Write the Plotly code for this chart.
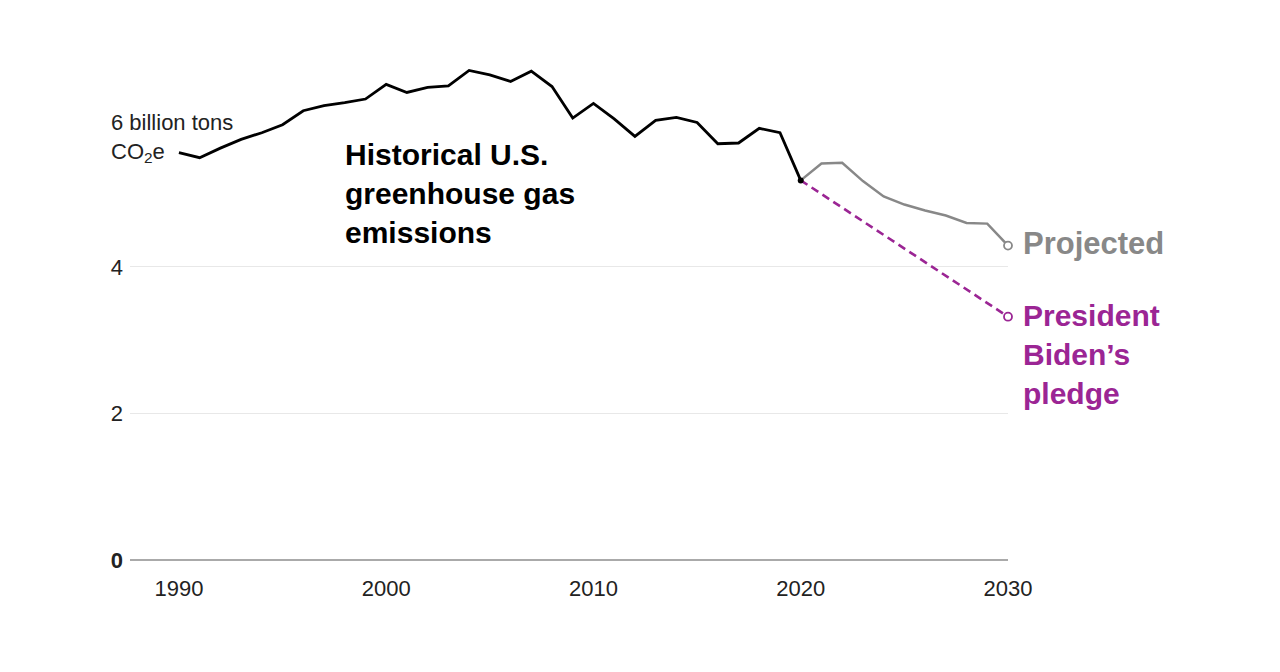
import plotly.graph_objects as go

hist_years = list(range(1990, 2021))
hist_vals = [5.56, 5.49, 5.62, 5.74, 5.83, 5.94, 6.13, 6.20, 6.24, 6.29,
             6.49, 6.38, 6.45, 6.47, 6.68, 6.62, 6.53, 6.67, 6.46, 6.03,
             6.23, 6.02, 5.78, 6.00, 6.04, 5.97, 5.68, 5.69, 5.89, 5.83,
             5.18]
proj_years = list(range(2020, 2031))
proj_vals = [5.18, 5.41, 5.42, 5.17, 4.96, 4.85, 4.77, 4.70, 4.60, 4.59, 4.29]
pledge_years = [2020, 2030]
pledge_vals = [5.18, 3.32]

y_tickvals = [0, 2, 4]
y_ticktext = ["<b>0</b>", "2", "4"]
x_tickvals = [1990, 2000, 2010, 2020, 2030]

GRAY = "#888888"
PURPLE = "#9b2594"
FONT = "Liberation Sans"

fig = go.Figure()
fig.add_trace(go.Scatter(x=proj_years, y=proj_vals, mode="lines",
                         line=dict(color=GRAY, width=2.5), cliponaxis=False,
                         hoverinfo="skip"))
fig.add_trace(go.Scatter(x=pledge_years, y=pledge_vals, mode="lines",
                         line=dict(color=PURPLE, width=2.6, dash="8px,5px"),
                         cliponaxis=False, hoverinfo="skip"))
fig.add_trace(go.Scatter(x=hist_years, y=hist_vals, mode="lines",
                         line=dict(color="black", width=2.8), cliponaxis=False,
                         hoverinfo="skip"))
fig.add_trace(go.Scatter(x=[hist_years[-1]], y=[hist_vals[-1]], mode="markers",
                         marker=dict(color="black", size=6), cliponaxis=False))
fig.add_trace(go.Scatter(x=[proj_years[-1]], y=[proj_vals[-1]], mode="markers",
                         marker=dict(color="white", size=8,
                                     line=dict(color=GRAY, width=1.8)),
                         cliponaxis=False))
fig.add_trace(go.Scatter(x=[pledge_years[-1]], y=[pledge_vals[-1]], mode="markers",
                         marker=dict(color="white", size=8,
                                     line=dict(color=PURPLE, width=1.8)),
                         cliponaxis=False))

fig.add_annotation(x=2030, y=proj_vals[-1], xref="x", yref="y",
                   text="<b>Projected</b>", showarrow=False,
                   xanchor="left", xshift=13, yshift=2,
                   font=dict(family=FONT, size=31, color=GRAY))
fig.add_annotation(x=2030, y=pledge_vals[-1], xref="x", yref="y",
                   text="<b>President<br>Biden’s<br>pledge</b>", showarrow=False,
                   xanchor="left", yanchor="top", xshift=13, yshift=20,
                   align="left",
                   font=dict(family=FONT, size=30, color=PURPLE))
fig.add_annotation(x=1997.9, y=5.78, xref="x", yref="y",
                   text="<b>Historical U.S.<br>greenhouse gas<br>emissions</b>",
                   showarrow=False, xanchor="left", yanchor="top", align="left",
                   font=dict(family=FONT, size=30, color="black"))
fig.add_annotation(x=0, y=6, xref="paper", yref="y",
                   text="6 billion tons<br>CO<sub>2</sub>e",
                   showarrow=False, xanchor="left", yanchor="top", align="left",
                   xshift=-21, yshift=12,
                   font=dict(family=FONT, size=22, color="#222222"))

fig.update_layout(
    width=1280, height=672,
    margin=dict(l=122, r=280, t=39, b=120),
    paper_bgcolor="white", plot_bgcolor="white",
    showlegend=False,
    font=dict(family=FONT, color="#222222"),
    xaxis=dict(range=[1987.64, 2030], tickvals=x_tickvals, showgrid=False,
               zeroline=False, showline=False, ticks="",
               ticklabelstandoff=13,
               tickfont=dict(family=FONT, size=22, color="#222222")),
    yaxis=dict(range=[0, 7], tickvals=y_tickvals, ticktext=y_ticktext,
               showgrid=True, gridcolor="#e8e8e8", gridwidth=1,
               zeroline=True, zerolinecolor="#aaaaaa", zerolinewidth=1.5,
               showline=False, ticks="", ticklabelstandoff=6,
               tickfont=dict(family=FONT, size=22, color="#222222")),
)

fig.write_html("out.html")
